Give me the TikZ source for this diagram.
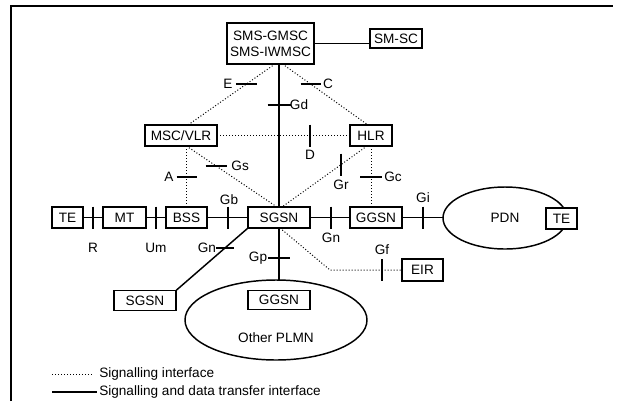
\documentclass[tikz,border=0pt]{standalone}
\usepackage{fontspec}
\setmainfont{Liberation Sans}
\usetikzlibrary{shapes.geometric,calc}
\begin{document}
\begin{tikzpicture}[x=0.75pt,y=-0.75pt,
  font=\fontsize{10.2}{12}\selectfont,
  box/.style={draw,line width=1.1pt,fill=white,inner sep=0pt,outer sep=0pt},
  cloud/.style={draw,ellipse,line width=1.1pt,inner sep=0pt,outer sep=0pt},
  sz/.style 2 args={minimum width=#1*0.75pt,minimum height=#2*0.75pt},
  data/.style={line width=1.1pt},
  sig/.style={line width=0.75pt,dash pattern=on 0.75pt off 1.5pt},
  tick/.style={line width=1.1pt},
  lbl/.style={inner sep=0pt}]
\useasboundingbox (0,0) rectangle (625,401);

% frame
\draw[line width=2.2pt] (11,401) -- (11,6) -- (613,6);

% network elements
\node[box,sz={87}{41},align=center] (sms) at (270.5,43.5) {SMS-GMSC\\SMS-IWMSC};
\node[box,sz={52}{19}] (smsc) at (396,38.5) {SM-SC};
\node[box,sz={72}{21}] (msc) at (181,135.5) {MSC/VLR};
\node[box,sz={42}{21}] (hlr) at (371,135.5) {HLR};
\node[box,sz={31}{21}] (te1) at (67.5,217.5) {TE};
\node[box,sz={43}{21}] (mt) at (124.5,217.5) {MT};
\node[box,sz={41}{21}] (bss) at (186.5,217.5) {BSS};
\node[box,sz={62}{21}] (sgsn) at (279,217.5) {SGSN};
\node[box,sz={52}{21}] (ggsn) at (376,217.5) {GGSN};
\node[cloud,sz={124}{62}] (pdn) at (505,218) {PDN};
\node[box,sz={31}{21}] (te2) at (561.5,218.5) {TE};
\node[box,sz={41}{22}] (eir) at (422.5,270) {EIR};
\node[box,sz={62}{20}] (sgsn2) at (145,300.5) {SGSN};
\node[cloud,sz={182}{80}] (plmn) at (276,320) {};
\node[box,sz={62}{19}] (ggsn2) at (279,300) {GGSN};
\node[lbl] (plmntxt) at (276,338) {Other PLMN};

% signalling and data transfer interfaces
\draw[data] (sms.east) -- (sms.east -| smsc.west);
\draw[data] (sgsn.north |- sms.south) -- coordinate[pos=0.287] (gd) (sgsn.north);
\draw[data] (te1) -- coordinate[pos=0.5] (r) (mt);
\draw[data] (mt) -- coordinate[pos=0.5] (um) (bss);
\draw[data] (bss) -- coordinate[pos=0.512] (gb) (sgsn);
\draw[data] (sgsn) -- coordinate[pos=0.525] (gn1) (ggsn);
\draw[data] (ggsn.east) -- coordinate[pos=0.512] (gi) (ggsn.east -| pdn.west);
\draw[data] (sgsn.south west) -- coordinate[pos=0.32] (gn2) (sgsn2.north east);
\draw[data] (sgsn.south) -- coordinate[pos=0.577] (gp) (sgsn.south |- plmn.north);

% signalling interfaces
\draw[sig] ($(sms.south)+(4.5,0)$) -- coordinate[pos=0.328] (e) ($(msc.north)+(7,0)$);
\draw[sig] ($(sms.south)+(12,0)$) -- coordinate[pos=0.328] (c) ($(hlr.north)+(-3,0)$);
\draw[sig] (msc) -- coordinate[pos=0.699] (d) (hlr);
\draw[sig] (msc.south -| bss.north) -- coordinate[pos=0.508] (a) (bss.north);
\draw[sig] (msc.south -| bss.north) -- coordinate[pos=0.328] (gs) ($(sgsn.north)+(-2,0)$);
\draw[sig] ($(hlr.south)+(-4,0)$) -- coordinate[pos=0.306] (gr) ($(sgsn.north)+(3,0)$);
\draw[sig] (hlr.south) -- coordinate[pos=0.508] (gc) (hlr.south |- ggsn.north);
\coordinate (gfbend) at (330,270);
\draw[sig] ($(sgsn.south)+(1,0)$) -- (gfbend) -- coordinate[pos=0.722] (gf) (eir.west);

% reference point marks
\foreach \p/\h in {e/10.5,c/10,gd/11.5,gs/10.5,a/10,gc/11,gn2/9,gp/11}
  \draw[tick] ($(\p)+(-\h,0)$) -- ($(\p)+(\h,0)$);
\foreach \p in {d,gr,gf,r,um,gb,gn1,gi}
  \draw[tick] ($(\p)+(0,-11)$) -- ($(\p)+(0,11)$);

% reference point names
\node[lbl] (le)   at ($(e)+(-18.5,0)$) {E};
\node[lbl] (lc)   at ($(c)+(17.5,0)$) {C};
\node[lbl] (lgd)  at ($(gd)+(20,0)$) {Gd};
\node[lbl] (ld)   at ($(d)+(0,19.5)$) {D};
\node[lbl] (lgs)  at ($(gs)+(24,0)$) {Gs};
\node[lbl] (la)   at ($(a)+(-17.5,0)$) {A};
\node[lbl] (lgb)  at ($(gb)+(1,-17.5)$) {Gb};
\node[lbl] (lgr)  at ($(gr)+(0,20)$) {Gr};
\node[lbl] (lgc)  at ($(gc)+(22,0)$) {Gc};
\node[lbl] (lgi)  at ($(gi)+(0,-20)$) {Gi};
\node[lbl] (lr)   at ($(r)+(0,30.5)$) {R};
\node[lbl] (lum)  at ($(um)+(0,30.5)$) {Um};
\node[lbl] (lgn2) at ($(gn2)+(-18,0)$) {Gn};
\node[lbl] (lgn1) at ($(gn1)+(0,20.5)$) {Gn};
\node[lbl] (lgp)  at ($(gp)+(-21,0)$) {Gp};
\node[lbl] (lgf)  at ($(gf)+(0,-20)$) {Gf};

% legend
\coordinate (legs0) at (52,374);
\coordinate (legs1) at (93,374);
\coordinate (legd0) at (52,392);
\coordinate (legd1) at (97,392);
\draw[sig] (legs0) -- (legs1);
\draw[data] (legd0) -- (legd1);
\node[lbl,anchor=west] (legsig) at (99,374) {Signalling interface};
\node[lbl,anchor=west] (legdat) at (99,392) {Signalling and data transfer interface};
\end{tikzpicture}
\end{document}
